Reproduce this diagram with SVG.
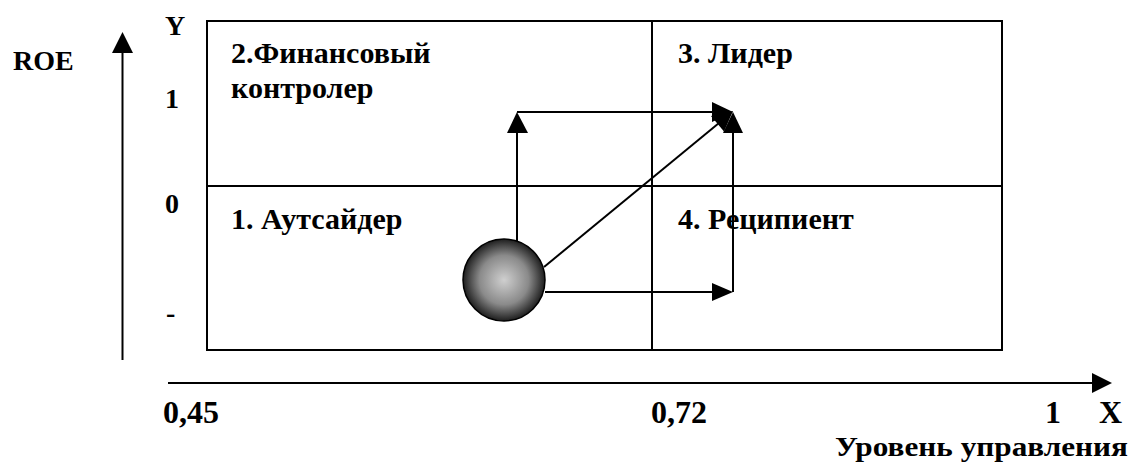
<svg xmlns="http://www.w3.org/2000/svg" width="1139" height="463" viewBox="0 0 1139 463">
<style>
text{font-family:"Liberation Serif","Times New Roman",serif;font-weight:bold;fill:#000}
.lbl{font-size:30px}
.ax{font-size:28px}
.num{font-size:32px}
.ln{stroke:#000;stroke-width:2;fill:none}
.ah{fill:#000;stroke:none}
</style>
<defs>
<radialGradient id="ball" cx="50%" cy="50%" r="50%">
<stop offset="0" stop-color="#cfcfcf"/>
<stop offset="0.6" stop-color="#8a8a8a"/>
<stop offset="1" stop-color="#1e1e1e"/>
</radialGradient>
</defs>
<rect width="1139" height="463" fill="#fff"/>
<g id="axes">
<line class="ln" x1="122.5" y1="360" x2="122.5" y2="50"/>
<polygon class="ah" points="122.5,32 112,53 133,53"/>
<line class="ln" x1="168" y1="383" x2="1094" y2="383"/>
<polygon class="ah" points="1112,383 1092,373 1092,393"/>
<text class="ax" x="13" y="70" font-size="27">ROE</text>
<text class="ax" x="165" y="35">Y</text>
<text class="ax" x="165" y="108">1</text>
<text class="ax" x="165" y="213">0</text>
<text class="ax" x="166" y="322">-</text>
<text class="num" x="163" y="423">0,45</text>
<text class="num" x="651" y="423">0,72</text>
<text class="num" x="1045" y="423">1</text>
<text class="num" x="1099" y="423">X</text>
<text x="835" y="456" font-size="28" textLength="293" lengthAdjust="spacingAndGlyphs">Уровень управления</text>
</g>
<g id="matrix">
<rect class="ln" x="207" y="21" width="795" height="329"/>
<line class="ln" x1="207" y1="186" x2="1002" y2="186"/>
<line class="ln" x1="652" y1="21" x2="652" y2="350"/>
</g>
<g id="q2"><text class="lbl" x="231" y="63">2.Финансовый</text><text class="lbl" x="231" y="98">контролер</text></g>
<g id="q3"><text class="lbl" x="678" y="63">3. Лидер</text></g>
<g id="q1"><text class="lbl" x="231" y="229">1. Аутсайдер</text></g>
<g id="q4"><text class="lbl" x="678" y="229">4. Реципиент</text></g>
<g id="connectors">
<line class="ln" x1="517" y1="241" x2="517" y2="130"/>
<polygon class="ah" points="517,112 507,133 528,133"/>
<line class="ln" x1="517" y1="112" x2="714" y2="112"/>
<polygon class="ah" points="733,112 712,102 712,122"/>
<line class="ln" x1="544" y1="267" x2="719" y2="123"/>
<polygon class="ah" points="733,111 724,131.5 711,116"/>
<line class="ln" x1="545" y1="292" x2="714" y2="292"/>
<polygon class="ah" points="733,292 712,283 712,301"/>
<line class="ln" x1="733" y1="292" x2="733" y2="130"/>
<polygon class="ah" points="733,112 723,133 743,133"/>
</g>
<g id="ball-node">
<circle cx="504" cy="280" r="41" fill="url(#ball)" stroke="#000" stroke-width="1.5"/>
</g>
</svg>
